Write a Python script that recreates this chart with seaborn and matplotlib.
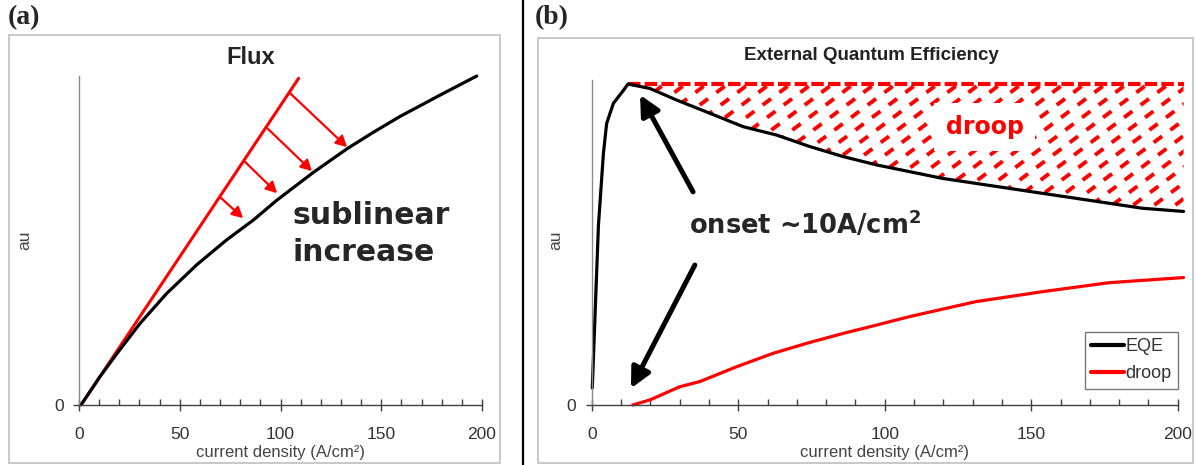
import numpy as np
import matplotlib
matplotlib.use("Agg")
import matplotlib.pyplot as plt
import seaborn as sns
from matplotlib.patches import Rectangle, PathPatch
from matplotlib.path import Path
from matplotlib.lines import Line2D
from matplotlib.ticker import MultipleLocator

# ---- panel (a): light output vs current density ----
ideal_x = [1.0, 109.0]
ideal_y = [0.0, 0.993]
flux_x = [1.3, 10.4, 18.9, 30.3, 43.5, 58.4, 73.3, 86.5, 98.3, 116.3, 133.3, 146.1, 159.3, 179.2, 197.4]
flux_y = [0.003, 0.086, 0.157, 0.248, 0.339, 0.426, 0.502, 0.562, 0.623, 0.707, 0.78, 0.829, 0.877, 0.942, 1.0]
# red arrows: from the linear line down onto the real curve
loss_x0 = [104.7, 93.3, 82.4, 70.0]
loss_y0 = [0.948, 0.842, 0.739, 0.632]
loss_x1 = [133.0, 115.6, 98.3, 81.4]
loss_y1 = [0.784, 0.711, 0.644, 0.568]

# ---- panel (b): EQE and droop ----
eqe_x = [0.2, 2.3, 4.0, 5.1, 7.4, 10.8, 12.4, 19.9, 29.0, 40.3, 51.7, 63.1, 74.5,
         85.8, 97.2, 108.5, 119.7, 142.4, 165.2, 187.9, 202.0]
eqe_y = [0.053, 0.56, 0.784, 0.877, 0.94, 0.98, 1.0, 0.986, 0.95, 0.909, 0.867, 0.841, 0.805,
         0.774, 0.748, 0.727, 0.706, 0.675, 0.644, 0.613, 0.603]
droop_x = [14.0, 19.9, 30.1, 36.9, 49.4, 61.9, 73.3, 85.8, 97.2, 108.3, 131.1, 153.8, 176.5, 202.0]
droop_y = [0.0, 0.016, 0.057, 0.073, 0.119, 0.161, 0.192, 0.223, 0.249, 0.275, 0.322, 0.353, 0.381, 0.397]
# onset arrows (tail -> head)
onset_x0 = [34.6, 35.2]
onset_y0 = [0.664, 0.436]
onset_x1 = [16.5, 13.4]
onset_y1 = [0.966, 0.052]

W, H = 1196, 465

sns.set_theme(style="white")
plt.rcParams["font.family"] = ["Liberation Sans", "DejaVu Sans"]
plt.rcParams["lines.scale_dashes"] = False
plt.rcParams["mathtext.fontset"] = "dejavusans"

fig = plt.figure(figsize=(W / 100, H / 100), dpi=100)


def fx(px):
    return px / W


def fy(py):
    return 1 - py / H


# panel frames and separator
fig.patches.append(Rectangle((fx(9), fy(463)), (500 - 9) / W, (463 - 35) / H, transform=fig.transFigure,
                             fill=False, edgecolor="#c4c4c4", linewidth=1.3))
fig.patches.append(Rectangle((fx(538), fy(463)), (1193 - 538) / W, (463 - 38) / H, transform=fig.transFigure,
                             fill=False, edgecolor="#c4c4c4", linewidth=1.3))
fig.lines.append(Line2D([fx(523), fx(523)], [0, 1], transform=fig.transFigure, color="black", lw=1.6))

fig.text(fx(8), fy(18), "(a)", family="Liberation Serif", weight="bold", fontsize=20, va="center", ha="left")
fig.text(fx(535), fy(18), "(b)", family="Liberation Serif", weight="bold", fontsize=20, va="center", ha="left")

ax_a = fig.add_axes([fx(79), fy(405), 403 / W, 329 / H])
ax_b = fig.add_axes([fx(591.7), fy(405), 586 / W, 325 / H])


def style_axes(ax, ytop):
    ax.set_xlim(0, 200)
    ax.set_ylim(0, ytop)
    ax.set_facecolor("none")
    for s in ["top", "right"]:
        ax.spines[s].set_visible(False)
    ax.spines["left"].set_color("#8a8a8a")
    ax.spines["left"].set_linewidth(1.0)
    ax.spines["bottom"].set_color("#404040")
    ax.spines["bottom"].set_linewidth(1.0)
    ax.xaxis.set_major_locator(MultipleLocator(50))
    ax.xaxis.set_minor_locator(MultipleLocator(10))
    ax.set_yticks([0])
    ax.tick_params(axis="x", which="major", bottom=True, direction="inout", length=9, width=1,
                   color="#404040", pad=11, labelsize=12.5, labelcolor="#333333")
    ax.tick_params(axis="x", which="minor", bottom=True, direction="in", length=4, width=1, color="#404040")
    ax.tick_params(axis="y", left=True, direction="out", length=4, width=1, color="#404040",
                   pad=7, labelsize=12.5, labelcolor="#333333")
    ax.set_xlabel("current density (A/cm²)", fontsize=12, color="#444444", labelpad=2.5)
    ax.set_ylabel("")


# ---- panel (a) ----
style_axes(ax_a, 1.0)
sns.lineplot(x=ideal_x, y=ideal_y, ax=ax_a, color="#ff0000", lw=2.2)
sns.lineplot(x=flux_x, y=flux_y, ax=ax_a, color="black", lw=2.3)
for l in ax_a.lines:
    l.set_clip_on(False)
for x0, y0, x1, y1 in zip(loss_x0, loss_y0, loss_x1, loss_y1):
    ax_a.annotate("", xy=(x1, y1), xytext=(x0, y0),
                  arrowprops=dict(arrowstyle="-|>,head_length=0.65,head_width=0.35", mutation_scale=10,
                                  color="#ff0000", lw=1.6, shrinkA=0, shrinkB=0))
ax_a.text(106, 0.52, "sublinear\nincrease", family="DejaVu Sans", weight="bold", fontsize=21.5,
          ha="left", va="center", linespacing=1.38)
fig.text(fx(251), fy(58), "Flux", weight="bold", fontsize=17, ha="center", va="center")
fig.text(fx(25), fy(240), "au", fontsize=12.5, color="#444444", rotation=90, ha="center", va="center")

# ---- panel (b) ----
style_axes(ax_b, 1.0125)
sns.lineplot(x=eqe_x, y=eqe_y, ax=ax_b, color="black", lw=2.3, label="EQE")
sns.lineplot(x=droop_x, y=droop_y, ax=ax_b, color="#ff0000", lw=2.3, label="droop")
for l in ax_b.lines:
    l.set_clip_on(False)

ex = np.array(eqe_x)
ey = np.array(eqe_y)
ipk = int(np.argmax(ey))
# droop area between peak level and EQE curve, filled with a dashed diagonal pattern
xs = ex[ipk:]
verts = list(zip(xs, ey[ipk:])) + list(zip(xs[::-1], np.full(len(xs), ey[ipk])))
area = PathPatch(Path(verts + [verts[0]], closed=True), facecolor="none", edgecolor="none",
                 transform=ax_b.transData)
ax_b.add_patch(area)
area.set_clip_on(False)
k = 0.75 * 586 / 325
for c in np.arange(-1.0, 1.05, 21 / 586):
    hl = Line2D([c, c + 1.1 / k], [0, 1.1], transform=ax_b.transAxes, color="#ff0000", lw=2.8,
                dashes=(7.5, 7.5), dash_capstyle="butt", zorder=1.5)
    hl.set_clip_path(area)
    ax_b.add_line(hl)
ax_b.plot([ex[ipk], ex[-1]], [ey[ipk], ey[ipk]], color="#ff0000", lw=3, dashes=(9, 3), clip_on=False,
          zorder=1.5)

ax_b.text(134.1, 0.866, "droop", family="DejaVu Sans", weight="bold", fontsize=17, color="#ff0000",
          ha="center", va="center", bbox=dict(boxstyle="square,pad=0.5", facecolor="white", edgecolor="none"))
for x0, y0, x1, y1 in zip(onset_x0, onset_y0, onset_x1, onset_y1):
    ax_b.annotate("", xy=(x1, y1), xytext=(x0, y0),
                  arrowprops=dict(arrowstyle="-|>,head_length=0.8,head_width=0.4", mutation_scale=15,
                                  color="black", lw=3.6, shrinkA=0, shrinkB=0))
ax_b.text(33.2, 0.56, r"onset ~10A/cm$^\mathbf{2}$", family="DejaVu Sans", weight="bold", fontsize=18.5,
          ha="left", va="center")

leg = ax_b.legend(loc="upper left", bbox_to_anchor=(fx(1085), fy(332)), bbox_transform=fig.transFigure,
                  frameon=True, fancybox=False, edgecolor="#555555", fontsize=13, handlelength=1.8,
                  handletextpad=0.1, borderpad=0.35, labelspacing=0.55, borderaxespad=0)
leg.get_frame().set_linewidth(1.0)
for t in leg.get_texts():
    t.set_color("#333333")
for h in leg.get_lines():
    h.set_linewidth(3)

fig.text(fx(871), fy(55), "External Quantum Efficiency", weight="bold", fontsize=13.5, color="#222222",
         ha="center", va="center")
fig.text(fx(556), fy(240), "au", fontsize=12.5, color="#444444", rotation=90, ha="center", va="center")

fig.savefig("out.png", dpi=100)
